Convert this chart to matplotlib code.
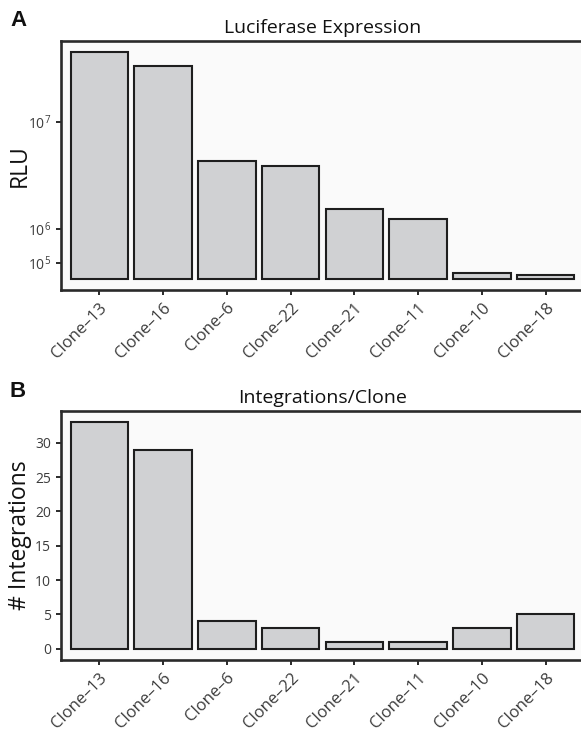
import numpy as np
import matplotlib
matplotlib.use("Agg")
import matplotlib.pyplot as plt

clones = ["Clone–13", "Clone–16", "Clone–6", "Clone–22", "Clone–21", "Clone–11", "Clone–10", "Clone–18"]
rlu = [2.08e7, 1.835e7, 5.6e6, 5.2e6, 1.96e6, 1.47e6, 1.4e4, 5.0e3]
integrations = [33, 29, 4, 3, 1, 1, 3, 5]
rlu_ticks = [1e5, 1e6, 1e7]
rlu_tick_labels = [r"$\mathregular{10^{5}}$", r"$\mathregular{10^{6}}$", r"$\mathregular{10^{7}}$"]
int_ticks = [0, 5, 10, 15, 20, 25, 30]

plt.rcParams['font.family'] = ['Open Sans', 'DejaVu Sans']

BAR_FILL = "#d0d1d3"
EDGE = "#1e1e1e"
PANEL_BG = "#fafafa"
SPINE = "#2a2a2a"
TICK_TXT = "#3c3c3c"

fig = plt.figure(figsize=(5.81, 7.30), dpi=100)

ax1 = fig.add_axes([61/581, 1-290/730, (584-61)/581, (290-41)/730])
ax2 = fig.add_axes([61/581, 1-660/730, (584-61)/581, (660-411)/730])

def fwd(x):
    x = np.asarray(x, dtype=float)
    return np.sign(x) * np.sqrt(np.abs(x))

def inv(x):
    x = np.asarray(x, dtype=float)
    return np.sign(x) * x**2

xpos = np.arange(1, len(clones) + 1)

def style(ax):
    ax.set_facecolor(PANEL_BG)
    for s in ax.spines.values():
        s.set_color(SPINE)
        s.set_linewidth(1.9)
    ax.tick_params(axis='both', colors=SPINE, length=3.5, width=1.4,
                   labelcolor=TICK_TXT, labelsize=10)
    ax.set_xlim(0.4, len(clones) + 0.6)
    ax.set_xticks(xpos)
    ax.set_xticklabels(clones, rotation=45, ha='right', rotation_mode='anchor',
                       fontsize=12, color=TICK_TXT)
    ax.yaxis.set_label_coords(-0.056, 0.5)

# Panel A
ax1.set_yscale('function', functions=(fwd, inv))
ax1.bar(xpos, rlu, width=0.9, color=BAR_FILL, edgecolor=EDGE, linewidth=1.5, zorder=3)
s = np.sqrt(max(rlu))
ax1.set_ylim(-(0.05 * s) ** 2, (1.05 * s) ** 2)
ax1.set_yticks(rlu_ticks)
ax1.set_yticklabels(rlu_tick_labels)
ax1.yaxis.set_minor_locator(matplotlib.ticker.NullLocator())
style(ax1)
ax1.set_ylabel("RLU", fontsize=16.5, color="#111111")
ax1.set_title("Luciferase Expression", fontsize=14, color="#111111", pad=6)

# Panel B
ax2.bar(xpos, integrations, width=0.9, color=BAR_FILL, edgecolor=EDGE, linewidth=1.5, zorder=3)
m = max(integrations)
ax2.set_ylim(-0.05 * m, 1.05 * m)
ax2.set_yticks(int_ticks)
style(ax2)
ax2.set_ylabel("# Integrations", fontsize=16.5, color="#111111")
ax2.set_title("Integrations/Clone", fontsize=14, color="#111111", pad=6)

fig.text(10/581, 1-26/730, "A", fontsize=16, fontweight='bold', family=['Liberation Sans', 'DejaVu Sans'], color="#111111")
fig.text(10/581, 1-397/730, "B", fontsize=16, fontweight='bold', family=['Liberation Sans', 'DejaVu Sans'], color="#111111")

fig.savefig("out.png", dpi=100)
